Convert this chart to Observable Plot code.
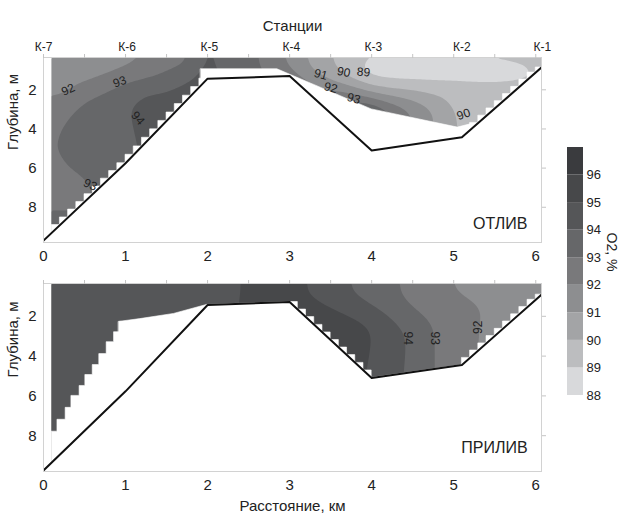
<!DOCTYPE html>
<html><head><meta charset="utf-8">
<script src="https://cdn.jsdelivr.net/npm/d3@7"></script>
<script src="https://cdn.jsdelivr.net/npm/@observablehq/plot@0.6"></script>
<style>
body{margin:0;background:#fff;font-family:"Liberation Sans",Arial,sans-serif;}
#wrap{position:relative;width:622px;height:518px;overflow:hidden;}
#wrap>div{position:absolute;}
</style></head><body>
<div id="wrap"><div id="top" style="left:0;top:0"></div><div id="bot" style="left:0;top:270px"></div><div id="leg" style="left:555px;top:135px"></div></div>
<script>
// ---------- data ----------
const stations = ["К-7","К-6","К-5","К-4","К-3","К-2","К-1"];
const stationX = [0, 1.02, 2.02, 3.02, 4.02, 5.1, 6.08];
const halfTicks = [0,0.5,1,1.5,2,2.5,3,3.5,4,4.5,5,5.5,6];
const kmTicks = [0,1,2,3,4,5,6];
const depthTicks = [2,4,6,8];
const levels = [88,89,90,91,92,93,94,95,96];
const levelColors = ["#d8d9db","#bcbdbf","#a3a4a6","#8d8e90","#79797b","#666769","#555658","#47484a","#3a3b3e"];

// sampling grid (km, m)
const gridX = [0.1,0.3,0.5,0.75,1.0,1.25,1.5,1.75,2.0,2.25,2.5,2.75,3.0,3.25,3.5,3.75,4.0,4.25,4.5,4.75,5.0,5.25,5.5,5.75,6.05];
const gridD = [0.35,1,1.5,2,2.5,3,4,5,6,7,8,9,9.8];

// O2 % — ОТЛИВ (rows = depth)
const o2Low = [
 [91.5,91.5,91.6,91.7,91.8,91.9,92.3,92.7,94.2,93.6,93.3,92.6,91.7,90.8,90.0,89.4,89.25,89.25,89.25,89.25,89.25,89.25,89.3,89.35,89.45],
 [91.3,91.6,91.7,91.85,91.97,92.4,93.0,93.4,94.3,93.7,93.4,92.8,92.1,91.0,90.2,89.3,88.4,88.3,88.3,88.3,88.3,88.35,88.4,88.55,89.1],
 [91.3,91.8,91.9,92.1,92.95,93.2,93.5,93.9,94.4,93.8,93.5,93.0,92.8,91.8,91.0,90.1,89.2,88.95,88.9,88.9,88.95,88.95,88.98,89.05,89.2],
 [91.7,91.95,92.3,92.95,93.3,93.8,93.9,94.3,94.4,93.8,93.5,93.0,93.2,92.5,92.0,91.5,90.6,90.2,90.05,89.8,89.6,89.4,89.3,89.3,89.3],
 [92.1,92.3,92.95,93.3,93.7,94.2,94.3,94.4,94.4,93.8,93.5,93.0,93.4,93.0,92.8,93.0,92.2,91.5,90.9,90.3,89.75,89.5,89.4,89.3,89.3],
 [92.4,92.7,93.3,93.5,93.9,94.4,94.5,94.4,94.4,93.8,93.5,93.0,93.4,93.3,93.3,93.8,94.3,92.8,91.9,91.0,89.95,89.6,89.4,89.3,89.3],
 [92.6,93.3,93.5,93.6,93.8,94.3,94.4,94.4,94.4,93.8,93.5,93.0,93.4,93.3,93.5,94.0,94.2,93.0,92.0,91.0,90.05,89.6,89.4,89.3,89.3],
 [92.8,93.4,93.5,93.7,93.7,94.2,94.4,94.4,94.4,93.8,93.5,93.0,93.4,93.3,93.5,94.0,94.2,93.0,92.0,91.0,90.05,89.6,89.4,89.3,89.3],
 [92.7,92.95,93.2,93.5,93.6,94.2,94.4,94.4,94.4,93.8,93.5,93.0,93.4,93.3,93.5,94.0,94.2,93.0,92.0,91.0,90.05,89.6,89.4,89.3,89.3],
 [92.6,92.7,92.8,93.3,93.6,94.2,94.4,94.4,94.4,93.8,93.5,93.0,93.4,93.3,93.5,94.0,94.2,93.0,92.0,91.0,90.05,89.6,89.4,89.3,89.3],
 [92.9,92.9,92.9,93.3,93.6,94.2,94.4,94.4,94.4,93.8,93.5,93.0,93.4,93.3,93.5,94.0,94.2,93.0,92.0,91.0,90.05,89.6,89.4,89.3,89.3],
 [93.4,93.4,93.2,93.3,93.6,94.2,94.4,94.4,94.4,93.8,93.5,93.0,93.4,93.3,93.5,94.0,94.2,93.0,92.0,91.0,90.05,89.6,89.4,89.3,89.3],
 [93.5,93.5,93.3,93.3,93.6,94.2,94.4,94.4,94.4,93.8,93.5,93.0,93.4,93.3,93.5,94.0,94.2,93.0,92.0,91.0,90.05,89.6,89.4,89.3,89.3]
];
// O2 % — ПРИЛИВ (rows = depth)
const o2High = [
 [94.7,94.9,95.1,95.15,95.15,95.05,94.8,94.7,94.7,94.7,95.2,95.4,95.3,94.95,94.5,93.95,93.5,93.15,92.7,92.3,91.95,91.6,91.4,91.3,91.2],
 [94.6,94.6,94.6,94.6,94.6,94.6,94.6,94.65,94.7,94.7,95.2,95.4,95.3,94.95,94.6,94.05,93.7,93.2,92.75,92.4,92.1,91.9,91.6,91.5,91.4],
 [94.6,94.6,94.6,94.6,94.6,94.6,94.6,94.65,94.7,94.7,95.3,95.5,95.5,95.3,94.95,94.6,94.0,93.5,92.95,92.5,92.3,92.1,91.8,91.6,91.5],
 [94.6,94.6,94.6,94.6,94.6,94.6,94.6,94.65,94.7,94.7,95.3,95.5,95.6,95.6,95.3,95.0,94.6,93.9,93.3,92.8,92.4,92.1,91.8,91.6,91.5],
 [94.6,94.6,94.6,94.6,94.6,94.6,94.6,94.65,94.7,94.7,95.3,95.5,95.6,95.6,95.5,95.3,94.95,94.2,93.7,92.95,92.5,92.05,91.8,91.6,91.5],
 [94.6,94.6,94.6,94.6,94.6,94.6,94.6,94.65,94.7,94.7,95.3,95.5,95.6,95.6,95.6,95.5,95.05,94.3,93.85,93.0,92.5,92.05,91.8,91.6,91.5],
 [94.6,94.6,94.6,94.6,94.6,94.6,94.6,94.65,94.7,94.7,95.3,95.5,95.6,95.6,95.6,95.5,94.95,94.3,93.85,93.0,92.5,92.0,91.8,91.6,91.5],
 [94.6,94.6,94.6,94.6,94.6,94.6,94.6,94.65,94.7,94.7,95.3,95.5,95.6,95.6,95.6,95.5,94.8,94.2,93.85,93.0,92.5,92.0,91.8,91.6,91.5],
 [94.6,94.6,94.6,94.6,94.6,94.6,94.6,94.65,94.7,94.7,95.3,95.5,95.6,95.6,95.6,95.5,94.8,94.2,93.85,93.0,92.5,92.0,91.8,91.6,91.5],
 [94.6,94.6,94.6,94.6,94.6,94.6,94.6,94.65,94.7,94.7,95.3,95.5,95.6,95.6,95.6,95.5,94.8,94.2,93.85,93.0,92.5,92.0,91.8,91.6,91.5],
 [94.6,94.6,94.6,94.6,94.6,94.6,94.6,94.65,94.7,94.7,95.3,95.5,95.6,95.6,95.6,95.5,94.8,94.2,93.85,93.0,92.5,92.0,91.8,91.6,91.5],
 [94.6,94.6,94.6,94.6,94.6,94.6,94.6,94.65,94.7,94.7,95.3,95.5,95.6,95.6,95.6,95.5,94.8,94.2,93.85,93.0,92.5,92.0,91.8,91.6,91.5],
 [94.6,94.6,94.6,94.6,94.6,94.6,94.6,94.65,94.7,94.7,95.3,95.5,95.6,95.6,95.6,95.5,94.8,94.2,93.85,93.0,92.5,92.0,91.8,91.6,91.5]
];

// bottom profile (km, m)
const bathX = [0, 1, 2, 3, 4, 5.1, 6.1];
const bathLowD = [9.7, 5.75, 1.43, 1.3, 5.1, 4.42, 0.75];
const bathHighD = [9.75, 5.77, 1.43, 1.28, 5.1, 4.45, 0.8];

// blanked (no-data) edges — ОТЛИВ
const lowStairLX = [0.1,0.2,0.3,0.4,0.5,0.6,0.7,0.8,0.9,1.0,1.1,1.2,1.3,1.4,1.5,1.6,1.7,1.8,1.9,2.0];
const lowStairLD = [9.31,8.91,8.52,8.12,7.73,7.33,6.94,6.54,6.15,5.75,5.32,4.89,4.45,4.02,3.59,3.16,2.73,2.3,1.86,1.43];
const lowBlankX = [1.92, 2.85, 4.0, 5.05, 5.22];
const lowBlankD = [0.95, 0.95, 3.0, 3.93, 3.75];
const lowStairRX = [5.2,5.3,5.4,5.5,5.6,5.7,5.8,5.9,6.0,6.07];
const lowStairRD = [3.75,3.69,3.32,2.95,2.58,2.22,1.85,1.48,1.12,0.86];
// blanked (no-data) edges — ПРИЛИВ
const highStairLX = [0.1,0.17,0.27,0.34,0.44,0.51,0.6,0.68,0.77,0.86,0.93,0.96];
const highStairLD = [7.8,7.2,6.6,6.0,5.5,4.95,4.45,3.9,3.3,2.8,2.28,2.28];
const highBlankX = [0.92, 1.18, 1.59, 2.0];
const highBlankD = [2.28, 2.14, 1.88, 1.42];
const highStairMX = [3.0,3.1,3.2,3.3,3.4,3.5,3.6,3.7,3.8,3.9,4.0];
const highStairMD = [1.28,1.66,2.04,2.43,2.81,3.19,3.57,3.95,4.34,4.72,5.1];
const highStairRX = [5.1,5.2,5.3,5.4,5.5,5.6,5.7,5.8,5.9,6.0,6.07];
const highStairRD = [4.45,4.09,3.72,3.36,2.99,2.63,2.26,1.9,1.53,1.17,0.91];

// contour labels
const lowLabT = ["92","93","94","93","91","90","89","92","93","90"];
const lowLabX = [0.3,0.93,1.15,0.57,3.38,3.66,3.9,3.5,3.78,5.12];
const lowLabD = [2.0,1.6,3.45,6.85,1.22,1.1,1.1,1.9,2.45,3.25];
const lowLabR = [-25,-20,50,25,15,10,5,15,15,-20];
const highLabT = ["94","93","92"];
const highLabX = [4.44,4.77,5.3];
const highLabD = [3.1,3.1,2.55];
const highLabR = [90,90,-90];

// ---------- helpers ----------
const font = "Liberation Sans, Arial, sans-serif";
const colorSpec = {type: "threshold", domain: levels.slice(1), range: levelColors};
const pts = (xs, ds) => xs.map((x, i) => ({x, d: ds[i]}));
function samples(rows) {
  const out = [];
  rows.forEach((row, i) => row.forEach((v, j) => out.push({x: gridX[j], d: gridD[i], v})));
  return out;
}
const yMax = 9.8;
function whiteArea(xs, ds, curve) {
  return Plot.areaY(pts(xs, ds), {x: "x", y1: "d", y2: yMax, fill: "white", stroke: "white", strokeWidth: 0.6, curve, clip: true});
}
function panel({rows, bathD, masks, labT, labX, labD, labR, tag, tagD, top}) {
  const marks = [
    Plot.contour(samples(rows), {x: "x", y: "d", fill: "v", thresholds: levels, interpolate: "barycentric",
      blur: 3, x1: 0.1, x2: 6.07, y1: 0.35, y2: 9.8}),
    whiteArea(bathX, bathD, "linear"),
    ...masks,
    Plot.line(pts(bathX, bathD), {x: "x", y: "d", stroke: "#111", strokeWidth: 2, clip: true}),
    Plot.frame({stroke: "#d2d2d2"}),
    Plot.axisX({anchor: "bottom", ticks: kmTicks, tickFormat: d => String(d), tickSize: 0, tickPadding: 8, fontSize: 15, fill: "#222", label: null}),
    Plot.axisX({anchor: "top", ticks: halfTicks, tickSize: 4, tickFormat: () => "", stroke: "#c4c4c4", label: null}),
    Plot.axisY({anchor: "left", ticks: depthTicks, tickFormat: d => String(d), tickSize: 0, tickPadding: 7, fontSize: 15, fill: "#222", label: null}),
    Plot.axisY({anchor: "right", ticks: depthTicks, tickSize: 4, tickFormat: () => "", stroke: "#c4c4c4", label: null}),
    Plot.text(labT, {x: labX, y: labD, text: labT, rotate: labR, fontSize: 12, fill: "#222"}),
    Plot.text([tag], {x: 5.9, y: tagD, text: d => d, textAnchor: "end", fontSize: 16, fill: "#222"}),
    Plot.text(["Глубина, м"], {frameAnchor: "left", dx: -30, rotate: -90, text: d => d, fontSize: 15, fill: "#222"})
  ];
  if (top) {
    marks.push(Plot.text(stations, {x: stationX, text: stations, frameAnchor: "top", dy: -15, fontSize: 12, fill: "#222"}));
    marks.push(Plot.text(["Станции"], {frameAnchor: "top", text: d => d, dy: -37, fontSize: 15, fill: "#222"}));
  } else {
    marks.push(Plot.text(["Расстояние, км"], {frameAnchor: "bottom", text: d => d, dy: 39, fontSize: 15, fill: "#222"}));
  }
  return Plot.plot({
    width: 622,
    height: top ? 270 : 248,
    marginLeft: 43, marginRight: 81,
    marginTop: top ? 57 : 13,
    marginBottom: top ? 28 : 47,
    x: {domain: [0, 6.07]},
    y: {domain: [0.35, 9.8], reverse: true},
    color: colorSpec,
    style: {fontFamily: font, background: "white", color: "#222"},
    marks
  });
}

document.getElementById("top").append(panel({
  rows: o2Low, bathD: bathLowD, top: true, tag: "ОТЛИВ", tagD: 8.83,
  labT: lowLabT, labX: lowLabX, labD: lowLabD, labR: lowLabR,
  masks: [
    whiteArea(lowStairLX, lowStairLD, "step-before"),
    whiteArea(lowBlankX, lowBlankD, "linear"),
    whiteArea(lowStairRX, lowStairRD, "step-before")
  ]
}));
document.getElementById("bot").append(panel({
  rows: o2High, bathD: bathHighD, top: false, tag: "ПРИЛИВ", tagD: 8.6,
  labT: highLabT, labX: highLabX, labD: highLabD, labR: highLabR,
  masks: [
    whiteArea(highStairLX, highStairLD, "step-after"),
    whiteArea(highBlankX, highBlankD, "linear"),
    whiteArea(highStairMX, highStairMD, "step-after"),
    whiteArea(highStairRX, highStairRD, "step-before")
  ]
}));

document.getElementById("leg").append(Plot.plot({
  width: 67, height: 270,
  marginLeft: 12, marginRight: 39, marginTop: 12, marginBottom: 10,
  x: {domain: [0, 1], axis: null},
  y: {domain: [88, 97]},
  color: colorSpec,
  style: {fontFamily: font, background: "white", color: "#222"},
  marks: [
    Plot.rect(levels, {x1: 0, x2: 1, y1: d => d, y2: d => d + 1, fill: d => d}),
    Plot.axisY({anchor: "right", ticks: levels, tickSize: 0, tickPadding: 3, fontSize: 13, fill: "#222", label: null}),
    Plot.text(["O2, %"], {frameAnchor: "right", text: d => d, dx: 28, rotate: 90, fontSize: 14, fill: "#222"})
  ]
}));
</script>
</body></html>
